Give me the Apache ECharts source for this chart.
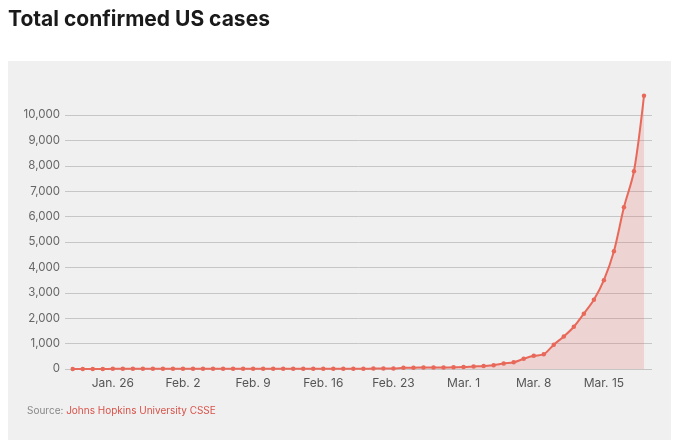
<!DOCTYPE html>
<html>
<head>
<meta charset="utf-8">
<script src="https://cdn.jsdelivr.net/npm/echarts@6/dist/echarts.min.js"></script>
<style>
html,body{margin:0;padding:0;background:#fff;}
#chart{width:680px;height:448px;}
</style>
</head>
<body>
<div id="chart"></div>
<script>
// Dates Jan 22 – Mar 19, 2020
const dates = ["Jan. 22","Jan. 23","Jan. 24","Jan. 25","Jan. 26","Jan. 27","Jan. 28","Jan. 29","Jan. 30","Jan. 31",
  "Feb. 1","Feb. 2","Feb. 3","Feb. 4","Feb. 5","Feb. 6","Feb. 7","Feb. 8","Feb. 9","Feb. 10",
  "Feb. 11","Feb. 12","Feb. 13","Feb. 14","Feb. 15","Feb. 16","Feb. 17","Feb. 18","Feb. 19","Feb. 20",
  "Feb. 21","Feb. 22","Feb. 23","Feb. 24","Feb. 25","Feb. 26","Feb. 27","Feb. 28","Feb. 29",
  "Mar. 1","Mar. 2","Mar. 3","Mar. 4","Mar. 5","Mar. 6","Mar. 7","Mar. 8","Mar. 9","Mar. 10",
  "Mar. 11","Mar. 12","Mar. 13","Mar. 14","Mar. 15","Mar. 16","Mar. 17","Mar. 18","Mar. 19"];
const cases = [1,1,2,2,5,5,5,5,5,7,
  8,8,11,11,11,11,11,11,11,11,
  12,12,13,13,13,13,13,13,13,13,
  15,15,15,51,51,57,58,60,68,
  74,98,118,149,217,262,402,518,583,959,
  1281,1663,2179,2727,3499,4632,6366,7786,10755];
const tickLabels = ["Jan. 26","Feb. 2","Feb. 9","Feb. 16","Feb. 23","Mar. 1","Mar. 8","Mar. 15"];
const yTicks = [0,1000,2000,3000,4000,5000,6000,7000,8000,9000,10000];

const tickIdx = tickLabels.map(l => dates.indexOf(l));
const chart = echarts.init(document.getElementById('chart'));
const lineColor = '#e8695a';
chart.setOption({
  animation: false,
  backgroundColor: '#ffffff',
  graphic: [
    {type:'rect', left:8, top:61, shape:{width:663, height:379}, style:{fill:'#f0f0f0'}, z:-10},
    {type:'text', left:8, top:9, style:{text:'Total confirmed US cases', font:'bold 21px Inter, "Noto Sans", sans-serif', fill:'#1a1a1a'}},
    {type:'text', left:27, top:406, style:{
      rich:{a:{fill:'#888888', font:'10px Inter, "Noto Sans", sans-serif'}, b:{fill:'#d9534a', font:'10px Inter, "Noto Sans", sans-serif'}},
      text:'{a|Source: }{b|Johns Hopkins University CSSE}'}}
  ],
  grid: {left:65, right:28, top:115, bottom:79},
  xAxis: {
    type:'value', min:-0.77, max:57.8,
    axisLine:{show:false}, axisTick:{show:false}, splitLine:{show:false},
    axisLabel:{
      customValues: tickIdx,
      formatter: v => dates[Math.round(v)] || '',
      color:'#555', fontSize:12, margin:8, fontFamily:'Inter, "Noto Sans", sans-serif'
    }
  },
  yAxis: {
    type:'value', min:0, max:10000, interval:1000,
    axisLine:{show:false}, axisTick:{show:false},
    splitLine:{lineStyle:{color:'#c6c6c6', width:1}},
    axisLabel:{
      formatter: v => yTicks.includes(v) ? v.toLocaleString('en-US') : '',
      color:'#666', fontSize:11.5, margin:5, fontFamily:'Inter, "Noto Sans", sans-serif'
    }
  },
  series: [{
    type:'line',
    data: cases.map((v,i)=>[i,v]),
    clip:false,
    smooth:0.3,
    symbol:'circle', symbolSize:4.5,
    lineStyle:{color:lineColor, width:2},
    itemStyle:{color:lineColor},
    areaStyle:{color:'rgba(225,105,100,0.3)'}
  }]
});
</script>
</body>
</html>
